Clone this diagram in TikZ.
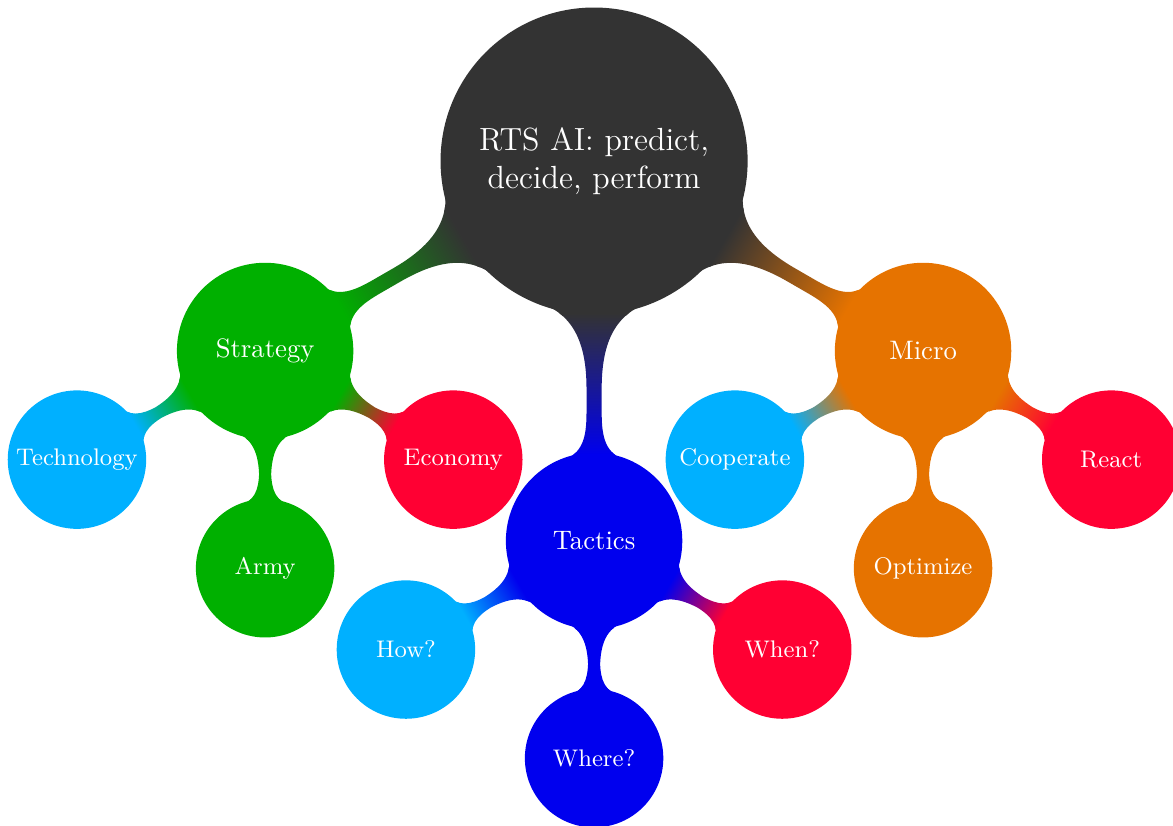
\documentclass[tikz,border=0pt]{standalone}
\usetikzlibrary{mindmap}
\definecolor{rtsgray}{RGB}{51,51,51}
\definecolor{rtsgreen}{RGB}{0,176,0}
\definecolor{rtsblue}{RGB}{0,0,238}
\definecolor{rtsorange}{RGB}{230,115,0}
\definecolor{rtscyan}{RGB}{0,176,255}
\definecolor{rtsred}{RGB}{255,0,51}
\begin{document}
\begin{tikzpicture}[mindmap,concept color=rtsgray,text=white,
  level 1/.append style={counterclockwise from=210,sibling angle=60,level distance=5cm},
  level 2/.append style={counterclockwise from=210,sibling angle=60,level distance=2.86cm},
  level 1 concept/.append style={minimum size=2.28cm,text width=2cm,font=\normalsize},
  level 2 concept/.append style={minimum size=1.78cm,text width=1.6cm,font=\small}]
\useasboundingbox (-7.82,-8.74) rectangle (7.62,2.12);
%
\node[concept,minimum size=4cm,text width=3.5cm,font=\large] (rts)
  {RTS AI: predict, decide, perform}
  child[concept color=rtsgreen] {node[concept] (strategy) {Strategy}
    child[concept color=rtscyan] {node[concept] (technology) {Technology}}
    child[concept color=rtsgreen] {node[concept] (army) {Army}}
    child[concept color=rtsred] {node[concept] (economy) {Economy}}}
  child[concept color=rtsblue] {node[concept] (tactics) {Tactics}
    child[concept color=rtscyan] {node[concept] (how) {How?}}
    child[concept color=rtsblue] {node[concept] (where) {Where?}}
    child[concept color=rtsred] {node[concept] (when) {When?}}}
  child[concept color=rtsorange] {node[concept] (micro) {Micro}
    child[concept color=rtscyan] {node[concept] (cooperate) {Cooperate}}
    child[concept color=rtsorange] {node[concept] (optimize) {Optimize}}
    child[concept color=rtsred] {node[concept] (react) {React}}};
\end{tikzpicture}
\end{document}
